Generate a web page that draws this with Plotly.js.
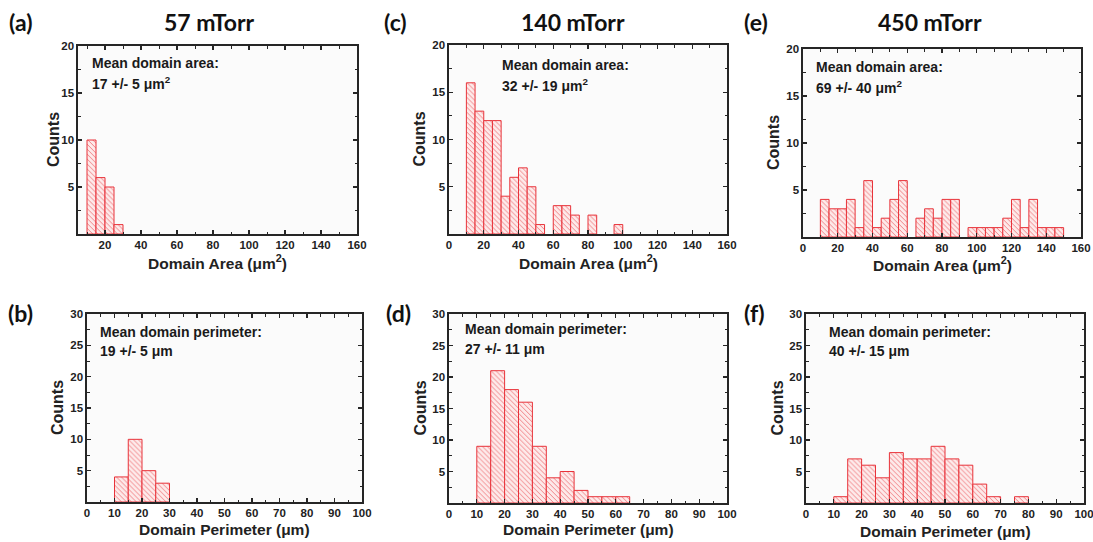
<!DOCTYPE html>
<html>
<head>
<meta charset="utf-8">
<script src="https://cdn.plot.ly/plotly-3.0.1.min.js"></script>
<style>html,body{margin:0;padding:0;background:#fff;}#chart{width:1093px;height:542px;}</style>
</head>
<body>
<div id="chart"></div>
<script>
// ---------- DATA ----------
const areaBins57 = [10, 15, 20, 25];
const areaCounts57 = [10, 6, 5, 1];

const areaBins140 = [10, 15, 20, 25, 30, 35, 40, 45, 50, 60, 65, 70, 80, 95];
const areaCounts140 = [16, 13, 12, 12, 4, 6, 7, 5, 1, 3, 3, 2, 2, 1];

const areaBins450 = [10, 15, 20, 25, 30, 35, 40, 45, 50, 55, 65, 70, 75, 80, 85, 95, 100, 105, 110, 115, 120, 125, 130, 135, 140, 145];
const areaCounts450 = [4, 3, 3, 4, 1, 6, 1, 2, 4, 6, 2, 3, 2, 4, 4, 1, 1, 1, 1, 2, 4, 1, 4, 1, 1, 1];

const perimBins57 = [10, 15, 20, 25];
const perimCounts57 = [4, 10, 5, 3];

const perimBins140 = [10, 15, 20, 25, 30, 35, 40, 45, 50, 55, 60];
const perimCounts140 = [9, 21, 18, 16, 9, 4, 5, 2, 1, 1, 1];

const perimBins450 = [10, 15, 20, 25, 30, 35, 40, 45, 50, 55, 60, 65, 75];
const perimCounts450 = [1, 7, 6, 4, 8, 7, 7, 9, 7, 6, 3, 1, 1];

const binWidth = 5;
const pressures = ["57 mTorr", "140 mTorr", "450 mTorr"];
const panelLetters = ["(a)", "(b)", "(c)", "(d)", "(e)", "(f)"];
const areaTitle = "Domain Area (μm<sup>2</sup>)";
const perimTitle = "Domain Perimeter (μm)";
const yTitle = "Counts";
const areaNotes = [
  ["Mean domain area:", "17 +/- 5 μm<sup>2</sup>"],
  ["Mean domain area:", "32 +/- 19 μm<sup>2</sup>"],
  ["Mean domain area:", "69 +/- 40 μm<sup>2</sup>"]
];
const perimNotes = [
  ["Mean domain perimeter:", "19 +/- 5 μm"],
  ["Mean domain perimeter:", "27 +/- 11 μm"],
  ["Mean domain perimeter:", "40 +/- 15 μm"]
];

// ---------- LAYOUT / STYLE ----------
const W = 1093, H = 542;
const px = v => v / W;
const py = v => 1 - v / H;

// pixel boxes [left, right, top, bottom]
const panels = [
  {bins: areaBins57, counts: areaCounts57, box: [78, 357, 46, 234], xr: [5, 160], xd: 20, xm: 10, yr: [0, 20], yt: [5, 10, 15, 20], ym: 2.5,
   xt: areaTitle, note: areaNotes[0], noteX: 90, noteY: [63, 83], letter: panelLetters[0], letterXY: [7, 22], title: pressures[0], titleX: 209, ytX: 53, xtY: 262},
  {bins: perimBins57, counts: perimCounts57, box: [87, 362, 314, 502], xr: [0, 100], xd: 10, xm: 5, yr: [0, 30], yt: [5, 10, 15, 20, 25, 30], ym: 2.5,
   xt: perimTitle, note: perimNotes[0], noteX: 98, noteY: [332, 351], letter: panelLetters[1], letterXY: [6, 313], ytX: 57, xtY: 529},
  {bins: areaBins140, counts: areaCounts140, box: [449, 727, 45, 234], xr: [0, 160], xd: 20, xm: 10, yr: [0, 20], yt: [5, 10, 15, 20], ym: 2.5,
   xt: areaTitle, note: areaNotes[1], noteX: 500, noteY: [65, 85], letter: panelLetters[2], letterXY: [382, 22], title: pressures[1], titleX: 573, ytX: 419, xtY: 262},
  {bins: perimBins140, counts: perimCounts140, box: [449, 727, 314, 503], xr: [0, 100], xd: 10, xm: 5, yr: [0, 30], yt: [5, 10, 15, 20, 25, 30], ym: 2.5,
   xt: perimTitle, note: perimNotes[1], noteX: 463, noteY: [329, 349], letter: panelLetters[3], letterXY: [384, 313], ytX: 420, xtY: 529},
  {bins: areaBins450, counts: areaCounts450, box: [803, 1081, 49, 237], xr: [0, 160], xd: 20, xm: 10, yr: [0, 20], yt: [5, 10, 15, 20], ym: 2.5,
   xt: areaTitle, note: areaNotes[2], noteX: 814, noteY: [67, 87], letter: panelLetters[4], letterXY: [742, 22], title: pressures[2], titleX: 930, ytX: 773, xtY: 264},
  {bins: perimBins450, counts: perimCounts450, box: [806, 1084, 314, 503], xr: [0, 100], xd: 10, xm: 5, yr: [0, 30], yt: [5, 10, 15, 20, 25, 30], ym: 2.5,
   xt: perimTitle, note: perimNotes[2], noteX: 827, noteY: [332, 351], letter: panelLetters[5], letterXY: [742, 313], ytX: 777, xtY: 531}
];

const RED = "#e8333a";
const AX = "#262626";
const SANS = "'Liberation Sans', Arial, Helvetica, sans-serif";
const tickFont = {family: SANS, size: 11.5, color: "#222", weight: 700};
const labFont = {family: SANS, size: 15.5, color: "#222", weight: 700};
const noteFont = {family: SANS, size: 14, color: "#1a1a1a", weight: 700};
const headFont = {family: "Lato, 'Noto Sans', sans-serif", size: 23, color: "#111", weight: 700};

const data = [];
const layout = {
  width: W, height: H,
  margin: {l: 0, r: 0, t: 0, b: 0},
  paper_bgcolor: "#ffffff",
  plot_bgcolor: "#fbfbfb",
  showlegend: false,
  annotations: [],
  bargap: 0
};

panels.forEach((p, i) => {
  const n = i + 1;
  const sfx = n === 1 ? "" : String(n);
  data.push({
    type: "bar",
    x: p.bins,
    y: p.counts,
    width: binWidth,
    offset: 0,
    xaxis: "x" + sfx,
    yaxis: "y" + sfx,
    marker: {
      color: "#fde6e6",
      line: {color: RED, width: 1},
      pattern: {shape: "\\", fgcolor: "#ef7478", bgcolor: "#fdeaea", size: 3.5, solidity: 0.25}
    },
    hoverinfo: "x+y"
  });
  const [l, r, t, b] = p.box;
  layout["xaxis" + sfx] = {
    domain: [px(l), px(r)],
    anchor: "y" + sfx,
    range: p.xr,
    tick0: 0, dtick: p.xd,
    ticks: "inside", ticklen: 4, tickwidth: 1.2, tickcolor: AX,
    minor: {dtick: p.xm, tick0: 0, ticks: "inside", ticklen: 2.5, tickwidth: 1, tickcolor: AX},
    showline: true, linecolor: AX, linewidth: 1.6, mirror: "ticks",
    showgrid: false, zeroline: false,
    tickfont: tickFont,
    ticklabeloverflow: "allow",
    fixedrange: true
  };
  layout["yaxis" + sfx] = {
    domain: [py(b), py(t)],
    anchor: "x" + sfx,
    range: p.yr,
    tickvals: p.yt,
    ticks: "inside", ticklen: 4, tickwidth: 1.2, tickcolor: AX,
    minor: {dtick: p.ym, tick0: 0, ticks: "inside", ticklen: 2.5, tickwidth: 1, tickcolor: AX},
    showline: true, linecolor: AX, linewidth: 1.6, mirror: "ticks",
    showgrid: false, zeroline: false,
    tickfont: tickFont,
    fixedrange: true
  };
  const A = layout.annotations;
  A.push({xref: "paper", yref: "paper", x: px(p.noteX), y: py(p.noteY[0]), xanchor: "left", yanchor: "middle", showarrow: false, text: p.note[0], font: noteFont});
  A.push({xref: "paper", yref: "paper", x: px(p.noteX), y: py(p.noteY[1]), xanchor: "left", yanchor: "middle", showarrow: false, text: p.note[1], font: noteFont});
  A.push({xref: "paper", yref: "paper", x: px((l + r) / 2), y: py(p.xtY), xanchor: "center", yanchor: "middle", showarrow: false, text: p.xt, font: labFont});
  A.push({xref: "paper", yref: "paper", x: px(p.ytX), y: py((t + b) / 2), xanchor: "center", yanchor: "middle", showarrow: false, text: yTitle, textangle: -90, font: {...labFont, size: 16}});
  A.push({xref: "paper", yref: "paper", x: px(p.letterXY[0]), y: py(p.letterXY[1]), xanchor: "left", yanchor: "middle", showarrow: false, text: p.letter, font: headFont});
  if (p.title) {
    A.push({xref: "paper", yref: "paper", x: px(p.titleX), y: py(22), xanchor: "center", yanchor: "middle", showarrow: false, text: p.title, font: headFont});
  }
});

Plotly.newPlot("chart", data, layout, {displayModeBar: false, staticPlot: true});
</script>
</body>
</html>
